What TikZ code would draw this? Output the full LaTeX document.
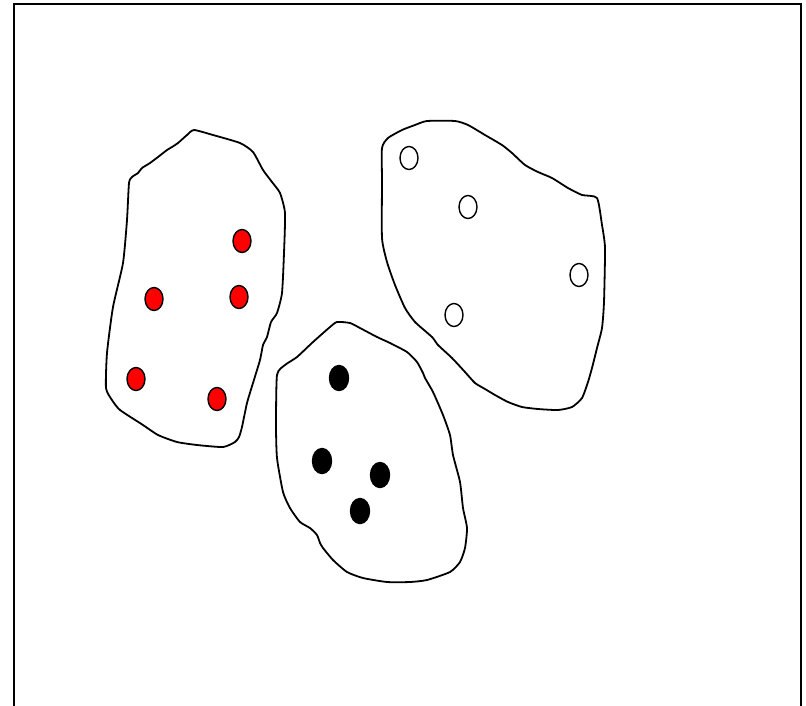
\documentclass[tikz,border=0pt]{standalone}
\usetikzlibrary{shapes.geometric}
\begin{document}
\begin{tikzpicture}[x=1pt,y=-1pt,
  blob/.style={draw=black,line width=1.8pt,line join=round},
  dotbase/.style={ellipse,draw=black,line width=1.4pt,inner sep=0pt,minimum width=18pt,minimum height=23pt},
  reddot/.style={dotbase,fill=red},
  blackdot/.style={dotbase,fill=black,minimum width=19pt,minimum height=25pt},
  whitedot/.style={dotbase,fill=white}]
\useasboundingbox (0,0) rectangle (806,705);
\draw[line width=2.2pt] (14,706) -- (14,4) -- (801,4) -- (801,706);
% red group
\draw[blob] plot[smooth cycle,tension=0.35] coordinates {
 (194,130) (213,135) (240,143) (253,152) (263,170) (272,182) (280,193) (285,213)
 (284,253) (282,293) (277,313) (271,322) (267,337) (263,345) (260,360) (253,383)
 (247,403) (242,427) (239,437) (235,442) (223,447) (197,445) (177,442) (158,435)
 (143,425) (120,410) (112,400) (106,388) (107,353) (113,307) (123,263) (127,220)
 (129,183) (132,177) (138,173) (142,168) (150,163) (158,157) (167,150) (172,147)
 (178,143) (187,135)};
\node[reddot] (r1) at (242,241) {};
\node[reddot] (r2) at (154,299) {};
\node[reddot] (r3) at (239,297) {};
\node[reddot] (r4) at (136,379) {};
\node[reddot] (r5) at (217,399) {};
% black group
\draw[blob] plot[smooth cycle,tension=0.35] coordinates {
 (337,322) (350,323) (360,328) (377,337) (390,343) (407,352) (417,362) (423,373)
 (425,378) (433,392) (443,415) (450,435) (453,455) (460,482) (463,508) (467,528)
 (465,548) (460,562) (450,572) (427,580) (410,582) (387,582) (363,578) (347,572)
 (333,560) (323,548) (320,543) (317,535) (310,528) (300,522) (290,508) (283,492)
 (277,458) (276,425) (277,375) (285,365) (297,357) (313,342) (330,327)};
\node[blackdot] (b1) at (339,378) {};
\node[blackdot] (b2) at (322,461) {};
\node[blackdot] (b3) at (380,475) {};
\node[blackdot] (b4) at (360,511) {};
% white group
\draw[blob] plot[smooth cycle,tension=0.35] coordinates {
 (427,121) (455,121) (468,125) (485,135) (502,145) (512,153) (525,165) (538,172)
 (552,178) (568,188) (582,195) (597,198) (602,225) (605,248) (604,302) (602,328)
 (597,348) (592,368) (588,382) (582,398) (572,407) (558,410) (538,409) (522,407)
 (508,402) (495,395) (485,389) (475,383) (465,372) (452,358) (438,345) (432,337)
 (415,322) (405,308) (395,285) (387,262) (382,238) (382,182) (382,148) (388,138)
 (402,130) (415,125)};
\node[whitedot] (w1) at (409,158) {};
\node[whitedot] (w2) at (468,207) {};
\node[whitedot] (w3) at (579,275) {};
\node[whitedot] (w4) at (454,315) {};
\end{tikzpicture}
\end{document}
